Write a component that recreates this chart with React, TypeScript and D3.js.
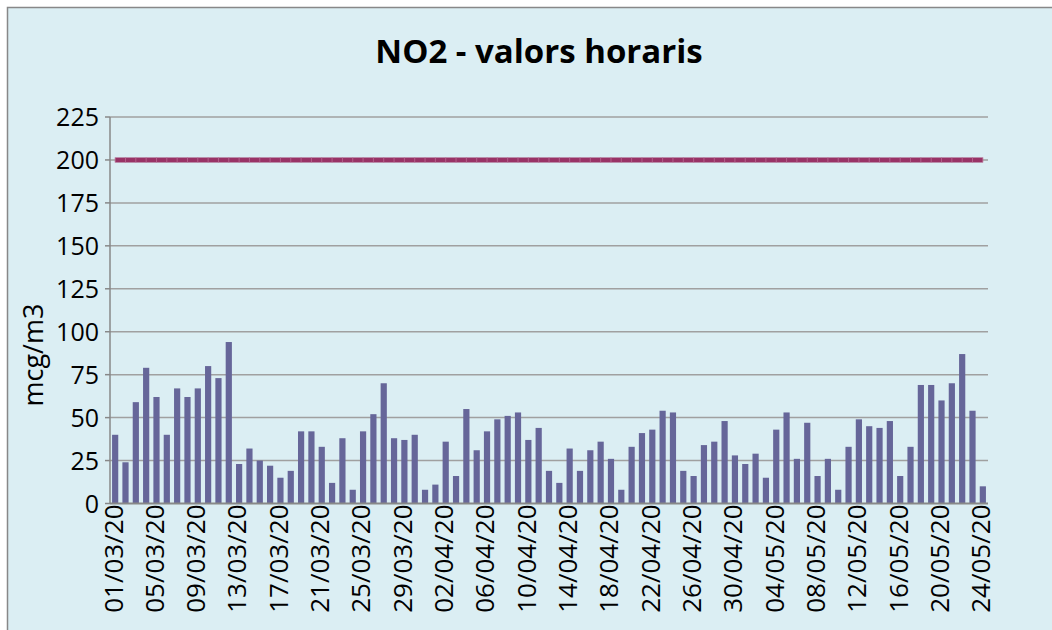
import React, { useEffect, useRef } from 'react';
import * as d3 from 'd3';

// daily NO2 values, 01/03/20 .. 24/05/20
const startDate = new Date(2020, 2, 1);
const endDate = new Date(2020, 4, 25);
const dates = d3.timeDay.range(startDate, endDate).map(d3.timeFormat('%d/%m/%y'));
const no2Values = [
  40, 24, 59, 79, 62, 40, 67, 62, 67, 80,
  73, 94, 23, 32, 25, 22, 15, 19, 42, 42,
  33, 12, 38, 8, 42, 52, 70, 38, 37, 40,
  8, 11, 36, 16, 55, 31, 42, 49, 51, 53,
  37, 44, 19, 12, 32, 19, 31, 36, 26, 8,
  33, 41, 43, 54, 53, 19, 16, 34, 36, 48,
  28, 23, 29, 15, 43, 53, 26, 47, 16, 26,
  8, 33, 49, 45, 44, 48, 16, 33, 69, 69,
  60, 70, 87, 54, 10,
];
const limitValue = 200;
const yTicks = [0, 25, 50, 75, 100, 125, 150, 175, 200, 225];
const titleText = 'NO2 - valors horaris';
const yTitle = 'mcg/m3';

export default function App() {
  const ref = useRef<SVGSVGElement>(null);

  useEffect(() => {
    if (!ref.current) return;
    const W = 1052, H = 630;
    const svg = d3.select(ref.current);
    svg.selectAll('*').remove();
    const font = '"Open Sans", "Liberation Sans", sans-serif';

    svg.append('rect').attr('width', W).attr('height', H).attr('fill', '#fff');
    svg.append('rect')
      .attr('x', 7.5).attr('y', 7.5).attr('width', W).attr('height', H)
      .attr('fill', '#DBEEF3').attr('stroke', '#888').attr('stroke-width', 1.5);

    const left = 110, right = 988, top = 117, bottom = 503.5;

    const x = d3.scaleBand<number>()
      .domain(d3.range(dates.length))
      .range([left, right])
      .paddingInner(0.4)
      .paddingOuter(0.2);
    const y = d3.scaleLinear().domain([0, 225]).range([bottom, top]);

    // gridlines
    svg.append('g').selectAll('line').data(yTicks.filter(t => t > 0)).join('line')
      .attr('x1', left).attr('x2', right)
      .attr('y1', d => y(d)).attr('y2', d => y(d))
      .attr('stroke', '#a0a0a0').attr('stroke-width', 1.5);

    // y axis
    svg.append('line')
      .attr('x1', left).attr('x2', left).attr('y1', top).attr('y2', bottom)
      .attr('stroke', '#888').attr('stroke-width', 1.5);
    svg.append('g').selectAll('line').data(yTicks).join('line')
      .attr('x1', left - 5).attr('x2', left)
      .attr('y1', d => y(d)).attr('y2', d => y(d))
      .attr('stroke', '#888').attr('stroke-width', 1.5);
    svg.append('g').selectAll('text').data(yTicks).join('text')
      .attr('x', 99).attr('y', d => y(d)).attr('dy', '0.36em')
      .attr('text-anchor', 'end')
      .attr('font-family', font).attr('font-size', 25).attr('fill', '#000')
      .text(d => d);

    // bars
    svg.append('g').selectAll('rect').data(no2Values).join('rect')
      .attr('x', (_, i) => x(i)!)
      .attr('width', x.bandwidth())
      .attr('y', d => y(d))
      .attr('height', d => bottom - y(d))
      .attr('fill', '#666699');

    // x axis
    svg.append('line')
      .attr('x1', left).attr('x2', right).attr('y1', bottom).attr('y2', bottom)
      .attr('stroke', '#888').attr('stroke-width', 2);

    // limit line (200)
    const cx = (i: number) => x(i)! + x.bandwidth() / 2;
    const line = d3.line<number>().x((_, i) => cx(i)).y(() => y(limitValue));
    svg.append('path')
      .datum(no2Values)
      .attr('d', line)
      .attr('fill', 'none')
      .attr('stroke', '#993366')
      .attr('stroke-width', 5);
    svg.append('g').selectAll('line').data(no2Values).join('line')
      .attr('x1', (_, i) => cx(i)).attr('x2', (_, i) => cx(i))
      .attr('y1', y(limitValue) - 2.5).attr('y2', y(limitValue) + 2.5)
      .attr('stroke', '#b86b92').attr('stroke-width', 0.8);

    // x labels every 4 days
    const labelIdx = d3.range(0, dates.length, 4);
    svg.append('g').selectAll('text').data(labelIdx).join('text')
      .attr('transform', i => `translate(${cx(i) - 2},${bottom + 1}) rotate(-90)`)
      .attr('dy', '0.36em')
      .attr('text-anchor', 'end')
      .attr('font-family', font).attr('font-size', 26).attr('fill', '#000')
      .text(i => dates[i]);

    // titles
    svg.append('text')
      .attr('x', 539).attr('y', 63)
      .attr('text-anchor', 'middle')
      .attr('font-family', font).attr('font-size', 33).attr('font-weight', 'bold')
      .attr('fill', '#000')
      .text(titleText);
    svg.append('text')
      .attr('transform', `translate(33,355) rotate(-90)`)
      .attr('dy', '0.36em')
      .attr('text-anchor', 'middle')
      .attr('font-family', font).attr('font-size', 27).attr('fill', '#000')
      .text(yTitle);
  }, []);

  return (
    <svg ref={ref} width={1052} height={630}
      style={{ position: 'absolute', left: 0, top: 0, display: 'block' }} />
  );
}
